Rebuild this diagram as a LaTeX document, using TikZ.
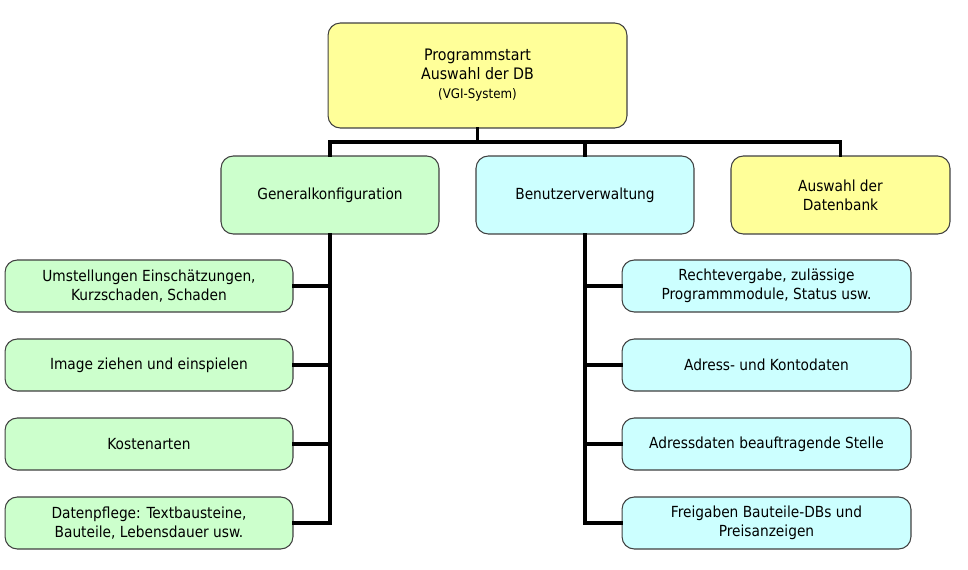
\documentclass[tikz,border=0pt]{standalone}
\usepackage{fontspec}
\setmainfont{DejaVu Sans Condensed}
\usepackage{tikz}
\usetikzlibrary{calc}
\usetikzlibrary{shapes}

\definecolor{boxyellow}{HTML}{FFFF99}
\definecolor{boxgreen}{HTML}{CCFFCC}
\definecolor{boxcyan}{HTML}{CCFFFF}
\definecolor{boxline}{HTML}{404040}

\begin{document}
\begin{tikzpicture}[x=0.02cm, y=-0.02cm,
        box_style/.style={rectangle, rounded corners=7pt, draw=boxline, line width=0.6pt, align=center,
                          font=\fontsize{8.7}{10.8}\selectfont, inner sep=2pt},
        top_style/.style={box_style, fill=boxyellow, minimum width=5.98cm, minimum height=2.1cm},
        head_green_style/.style={box_style, fill=boxgreen, minimum width=4.36cm, minimum height=1.56cm},
        head_cyan_style/.style={box_style, fill=boxcyan, minimum width=4.36cm, minimum height=1.56cm},
        head_yellow_style/.style={box_style, fill=boxyellow, minimum width=4.38cm, minimum height=1.56cm},
        leaf_green_style/.style={box_style, fill=boxgreen, minimum width=5.76cm, minimum height=1.04cm},
        leaf_cyan_style/.style={box_style, fill=boxcyan, minimum width=5.78cm, minimum height=1.04cm},
        edge_style/.style={draw=black, line width=2pt, line cap=rect}]

        \useasboundingbox (0,0) rectangle (968,569);

        \node [top_style](start) at (477.5,75.5) {{\fontsize{9}{10.8}\selectfont Programmstart}\\
            {\fontsize{9}{10.8}\selectfont Auswahl der DB}\\
            {\fontsize{7.5}{9.5}\selectfont (VGI-System)}};
        \node [head_green_style](general) at (330,195) {Generalkonfiguration};
        \node [head_cyan_style](benutzer) at (585,195) {Benutzerverwaltung};
        \node [head_yellow_style](datenbank) at (840.5,195) {Auswahl der\\Datenbank};

        \node [leaf_green_style](g1) at (149,286) {Umstellungen Einschätzungen,\\Kurzschaden, Schaden};
        \node [leaf_green_style](g2) at (149,365) {Image ziehen und einspielen};
        \node [leaf_green_style](g3) at (149,444) {Kostenarten};
        \node [leaf_green_style](g4) at (149,523) {Datenpflege: Textbausteine,\\Bauteile, Lebensdauer usw.};

        \node [leaf_cyan_style](b1) at (766.5,286) {Rechtevergabe, zulässige\\Programmmodule, Status usw.};
        \node [leaf_cyan_style](b2) at (766.5,365) {Adress- und Kontodaten};
        \node [leaf_cyan_style](b3) at (766.5,444) {Adressdaten beauftragende Stelle};
        \node [leaf_cyan_style](b4) at (766.5,523) {Freigaben Bauteile-DBs und\\Preisanzeigen};

        \coordinate (bus) at (477.5,142);
        \draw [edge_style] (start.south) -- (bus);
        \draw [edge_style] (general.north) |- (bus) -| (datenbank.north);
        \draw [edge_style] (bus) -| (benutzer.north);

        \draw [edge_style] (general.south) |- (g4.east);
        \draw [edge_style] (g1.east) -- (g1.east -| general.south);
        \draw [edge_style] (g2.east) -- (g2.east -| general.south);
        \draw [edge_style] (g3.east) -- (g3.east -| general.south);

        \draw [edge_style] (benutzer.south) |- (b4.west);
        \draw [edge_style] (b1.west) -- (b1.west -| benutzer.south);
        \draw [edge_style] (b2.west) -- (b2.west -| benutzer.south);
        \draw [edge_style] (b3.west) -- (b3.west -| benutzer.south);
        \end{tikzpicture}
\end{document}
